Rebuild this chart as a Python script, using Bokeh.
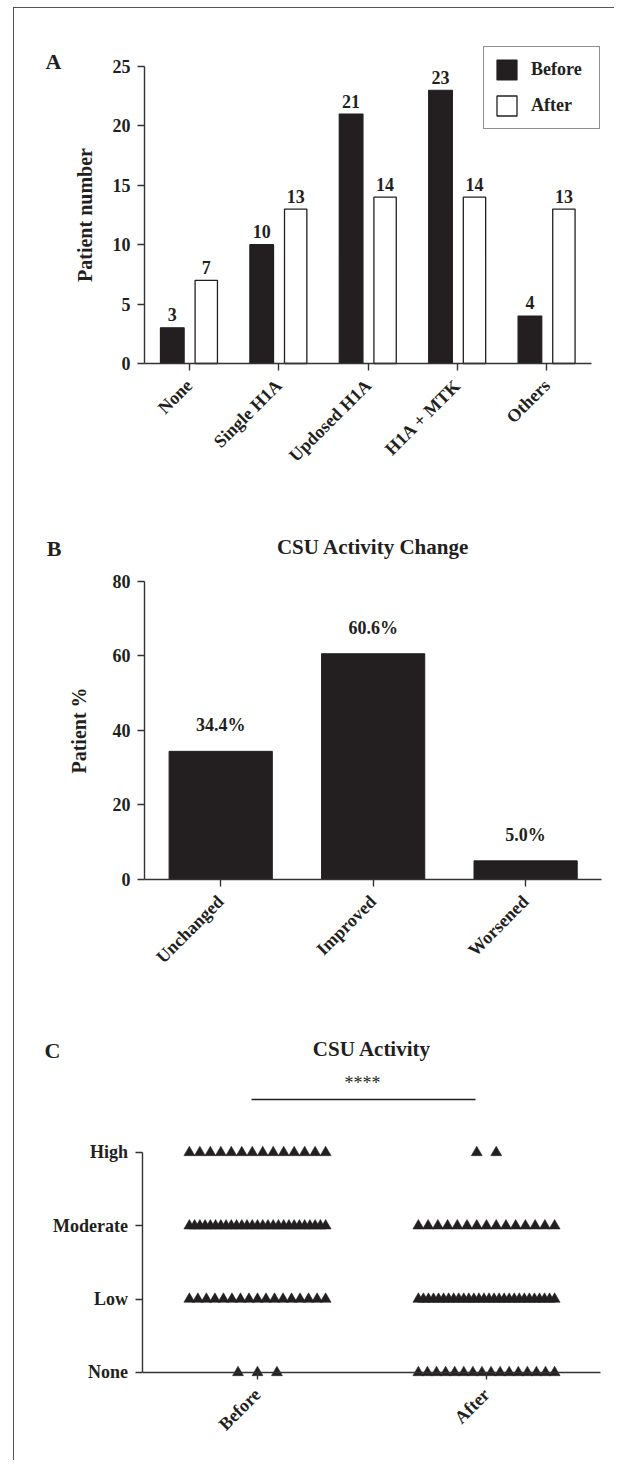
import numpy as np
from bokeh.plotting import figure
from bokeh.models import (ColumnDataSource, Label, Legend, LegendItem,
                          FixedTicker, Range1d)
from bokeh.layouts import column
from bokeh.embed import file_html
from bokeh.resources import INLINE
from bokeh.core.properties import value

# ---------------- data ----------------
treatments = ["None", "Single H1A", "Updosed H1A", "H1A + MTK", "Others"]
before_counts = [3, 10, 21, 23, 4]
after_counts = [7, 13, 14, 14, 13]

change_categories = ["Unchanged", "Improved", "Worsened"]
change_pct = [34.4, 60.6, 5.0]

activity_levels = ["None", "Low", "Moderate", "High"]
timepoints = ["Before", "After"]
before_activity = [3, 17, 27, 14]   # patients per level (None..High)
after_activity = [16, 28, 15, 2]

# ---------------- style ----------------
FONT = "Liberation Serif"
INK = "#231f20"
AXIS = "#333333"
TICK_FS = "18px"


def make_fig(h, xr, yr):
    p = figure(frame_width=600, frame_height=h,
               x_range=Range1d(*xr), y_range=Range1d(*yr),
               min_border=0, output_backend="svg", toolbar_location=None)
    p.background_fill_color = "white"
    p.border_fill_color = "white"
    p.outline_line_color = None
    p.grid.visible = False
    return p


def style_axes(p, xbounds, ybounds):
    for ax in p.axis:
        ax.axis_line_color = AXIS
        ax.axis_line_width = 1.4
        ax.major_tick_line_color = AXIS
        ax.major_tick_line_width = 1.4
        ax.major_tick_out = 7
        ax.major_tick_in = 0
        ax.minor_tick_line_color = None
        ax.major_label_text_font = FONT
        ax.major_label_text_font_style = "bold"
        ax.major_label_text_color = INK
        ax.major_label_text_font_size = TICK_FS
        ax.axis_label_text_font = FONT
        ax.axis_label_text_font_style = "bold"
        ax.axis_label_text_color = INK
        ax.axis_label_text_font_size = "20px"
    p.xaxis.fixed_location = ybounds[0]
    p.xaxis.bounds = xbounds
    p.xaxis.major_label_orientation = np.pi / 4
    p.xaxis.major_label_standoff = 12
    p.yaxis.fixed_location = xbounds[0]
    p.yaxis.bounds = ybounds
    p.yaxis.major_label_standoff = 7


def add_label(p, x, y, text, size, bold=True):
    p.add_layout(Label(x=x, y=y, text=text, text_font=FONT,
                       text_font_style="bold" if bold else "normal",
                       text_font_size=size, text_color=INK,
                       text_align="center", text_baseline="middle"))


# ---------------- panel A ----------------
pa = make_fig(477, (-1.955, 4.756), (-10.269, 29.882))
xa = np.arange(len(treatments))
srcA = ColumnDataSource(dict(
    xb=xa - 0.19, xf=xa + 0.19,
    before=before_counts, after=after_counts,
    bl=[str(v) for v in before_counts], al=[str(v) for v in after_counts]))
rb = pa.vbar(x="xb", top="before", width=0.265, source=srcA,
             fill_color=INK, line_color=INK, line_width=1.2)
ra = pa.vbar(x="xf", top="after", width=0.25, source=srcA,
             fill_color="white", line_color=INK, line_width=1.3)
for xcol, ycol, tcol in (("xb", "before", "bl"), ("xf", "after", "al")):
    pa.text(x=xcol, y=ycol, text=tcol, source=srcA, text_align="center",
            text_baseline="alphabetic", y_offset=-13,
            text_font=value(FONT), text_font_style="bold",
            text_font_size="18px", text_color=INK)
style_axes(pa, (-0.5, len(treatments) - 0.5), (0, 25))
pa.xaxis.ticker = FixedTicker(ticks=list(range(len(treatments))))
pa.xaxis.major_label_overrides = {i: t for i, t in enumerate(treatments)}
pa.yaxis.ticker = FixedTicker(ticks=[0, 5, 10, 15, 20, 25])
pa.yaxis.axis_label = "Patient number"
pa.yaxis.axis_label_standoff = 14
legend = Legend(items=[LegendItem(label="Before", renderers=[rb]),
                       LegendItem(label="After", renderers=[ra])],
                location=(469, 356), margin=0, padding=10, spacing=11,
                glyph_width=25, glyph_height=25, label_height=25,
                label_standoff=12, label_width=58,
                label_text_font=FONT, label_text_font_style="bold",
                label_text_font_size="18px", label_text_color=INK,
                border_line_color=INK, border_line_width=1.5,
                background_fill_color="white")
pa.add_layout(legend)
add_label(pa, -1.519, 25.42, "A", "22px")

# ---------------- panel B ----------------
pb = make_fig(505, (-1.3526, 2.5831), (-29.799, 105.77))
xbp = np.arange(len(change_categories))
srcB = ColumnDataSource(dict(x=xbp, pct=change_pct,
                             lab=[f"{v:.1f}%" for v in change_pct]))
pb.vbar(x="x", top="pct", width=0.677, source=srcB,
        fill_color=INK, line_color=INK, line_width=1)
pb.text(x="x", y="pct", text="lab", source=srcB, text_align="center",
        text_baseline="alphabetic", y_offset=-26,
        text_font=value(FONT), text_font_style="bold",
        text_font_size="18px", text_color=INK)
style_axes(pb, (-0.5, len(change_categories) - 0.5), (0, 80))
pb.xaxis.ticker = FixedTicker(ticks=list(range(len(change_categories))))
pb.xaxis.major_label_overrides = {i: t for i, t in enumerate(change_categories)}
pb.yaxis.ticker = FixedTicker(ticks=[0, 20, 40, 60, 80])
pb.yaxis.axis_label = "Patient %"
pb.yaxis.axis_label_standoff = 20
add_label(pb, -1.0935, 88.86, "B", "22px")
add_label(pb, 1.0, 89.13, "CSU Activity Change", "21px")

# ---------------- panel C ----------------
pc = make_fig(470, (-1.0611, 1.5590), (-1.2, 5.209))


def spread(n, center, step=0.085, max_span=0.595):
    if n <= 1:
        return [float(center)] * n
    span = min((n - 1) * step, max_span)
    return list(np.linspace(center - span / 2, center + span / 2, n))


xs, ys = [], []
for gi, counts in enumerate((before_activity, after_activity)):
    for li, n in enumerate(counts):
        xs += spread(n, gi)
        ys += [li] * n
pc.scatter(x=xs, y=ys, marker="triangle", size=11,
           fill_color=INK, line_color=INK, line_width=0.5)
pc.segment(x0=[-0.026], y0=[3.723], x1=[0.952], y1=[3.723],
           line_color=INK, line_width=1.6)
style_axes(pc, (-0.5, len(timepoints) - 0.5), (0, len(activity_levels) - 1))
pc.xaxis.ticker = FixedTicker(ticks=list(range(len(timepoints))))
pc.xaxis.major_label_overrides = {i: t for i, t in enumerate(timepoints)}
pc.yaxis.ticker = FixedTicker(ticks=list(range(len(activity_levels))))
pc.yaxis.major_label_overrides = {i: t for i, t in enumerate(activity_levels)}
pc.yaxis.major_label_standoff = 8
add_label(pc, -0.895, 4.391, "C", "22px")
add_label(pc, 0.5, 4.418, "CSU Activity", "21px")
add_label(pc, 0.4585, 3.941, "****", "18px", bold=False)

layout = column(pa, pb, pc, spacing=0, margin=(7, 0, 0, 13),
                styles={"border-left": "1px solid #555555",
                        "border-top": "1px solid #555555"})

open("out.html", "w").write(file_html(layout, INLINE))
